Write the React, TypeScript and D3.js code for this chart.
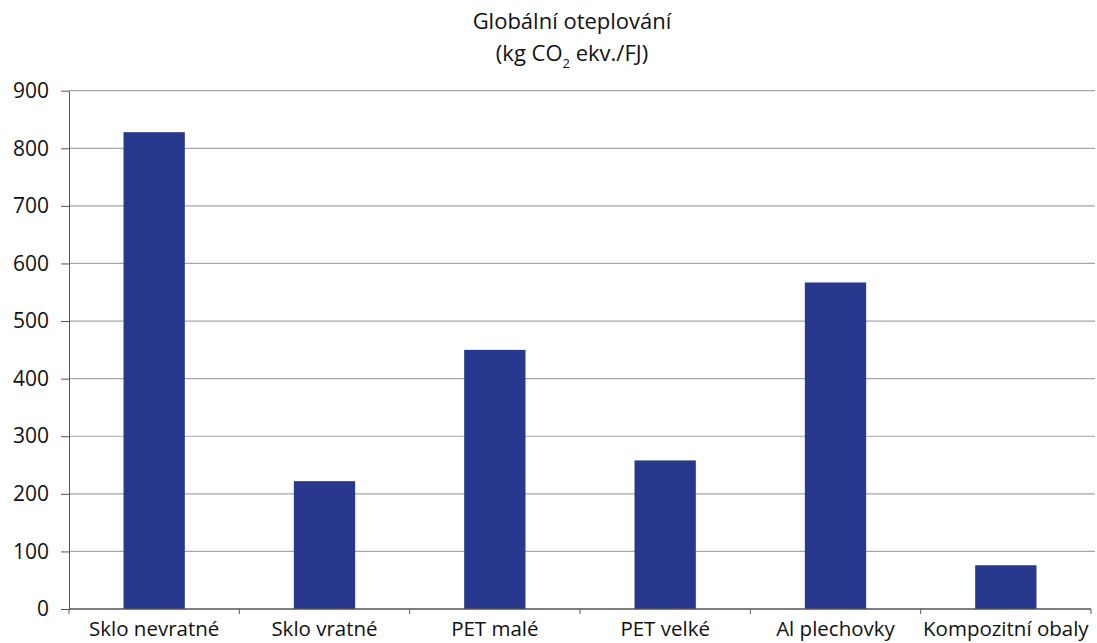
import React, { useEffect, useRef } from "react";
import * as d3 from "d3";

const categories = [
  "Sklo nevratné",
  "Sklo vratné",
  "PET malé",
  "PET velké",
  "Al plechovky",
  "Kompozitní obaly",
];
const values = [828, 222, 450, 258, 567, 76];
const yTicks = [0, 100, 200, 300, 400, 500, 600, 700, 800, 900];

const App: React.FC = () => {
  const svgRef = useRef<SVGSVGElement | null>(null);

  useEffect(() => {
    if (!svgRef.current) return;
    const width = 1097;
    const height = 643;
    const margin = { top: 90.7, right: 6, bottom: 34, left: 69 };
    const font = "'Open Sans', 'Noto Sans', sans-serif";

    const svg = d3.select(svgRef.current);
    svg.selectAll("*").remove();

    const x = d3
      .scaleBand<string>()
      .domain(categories)
      .range([margin.left, width - margin.right])
      .paddingInner(0.64)
      .paddingOuter(0.32);

    const y = d3
      .scaleLinear()
      .domain([0, 900])
      .range([height - margin.bottom, margin.top]);

    // gridlines
    svg
      .append("g")
      .selectAll("line")
      .data(yTicks.filter((d) => d > 0))
      .enter()
      .append("line")
      .attr("x1", margin.left)
      .attr("x2", width - 2)
      .attr("y1", (d) => y(d))
      .attr("y2", (d) => y(d))
      .attr("stroke", "#a6a6a6")
      .attr("stroke-width", 1.2);

    // bars
    svg
      .append("g")
      .selectAll("rect")
      .data(values)
      .enter()
      .append("rect")
      .attr("x", (_, i) => x(categories[i])!)
      .attr("y", (d) => y(d))
      .attr("width", x.bandwidth())
      .attr("height", (d) => y(0) - y(d))
      .attr("fill", "#29388f");

    // y axis
    const yAxis = svg
      .append("g")
      .attr("transform", `translate(${margin.left},0)`)
      .call(
        d3
          .axisLeft(y)
          .tickValues(yTicks)
          .tickSize(8)
          .tickPadding(12)
          .tickSizeOuter(0)
      );
    yAxis.select(".domain").attr("stroke", "#555");
    yAxis.selectAll(".tick line").attr("stroke", "#555");
    yAxis
      .selectAll("text")
      .attr("font-family", font)
      .attr("font-size", 21)
      .attr("fill", "#111");

    // x axis: ticks at category boundaries
    const step = x.step();
    const boundaries = d3.range(categories.length + 1);
    const xAxisG = svg.append("g").attr("transform", `translate(0,${y(0)})`);
    xAxisG
      .append("line")
      .attr("x1", margin.left)
      .attr("x2", width - margin.right)
      .attr("stroke", "#555")
      .attr("stroke-width", 1.5);
    xAxisG
      .selectAll(".bt")
      .data(boundaries)
      .enter()
      .append("line")
      .attr("class", "bt")
      .attr("x1", (d) => margin.left + d * step)
      .attr("x2", (d) => margin.left + d * step)
      .attr("y1", 0)
      .attr("y2", 5)
      .attr("stroke", "#555");
    xAxisG
      .selectAll("text")
      .data(categories)
      .enter()
      .append("text")
      .attr("x", (d) => x(d)! + x.bandwidth() / 2)
      .attr("y", 27)
      .attr("text-anchor", "middle")
      .attr("font-family", font)
      .attr("font-size", 20.5)
      .attr("fill", "#111")
      .text((d) => d);

    // title
    svg
      .append("text")
      .attr("x", 572)
      .attr("y", 29)
      .attr("text-anchor", "middle")
      .attr("font-family", font)
      .attr("font-size", 22)
      .attr("fill", "#111")
      .text("Globální oteplování");
    const line2 = svg
      .append("text")
      .attr("x", 572)
      .attr("y", 61)
      .attr("text-anchor", "middle")
      .attr("font-family", font)
      .attr("font-size", 22)
      .attr("fill", "#111");
    line2.append("tspan").text("(kg CO");
    line2.append("tspan").attr("font-size", 13).attr("dy", 7).text("2");
    line2.append("tspan").attr("dy", -7).text(" ekv./FJ)");
  }, []);

  return (
    <svg
      ref={svgRef}
      width={1097}
      height={643}
      style={{ position: "absolute", left: 0, top: 0, background: "#fff" }}
    ></svg>
  );
};

export default App;
